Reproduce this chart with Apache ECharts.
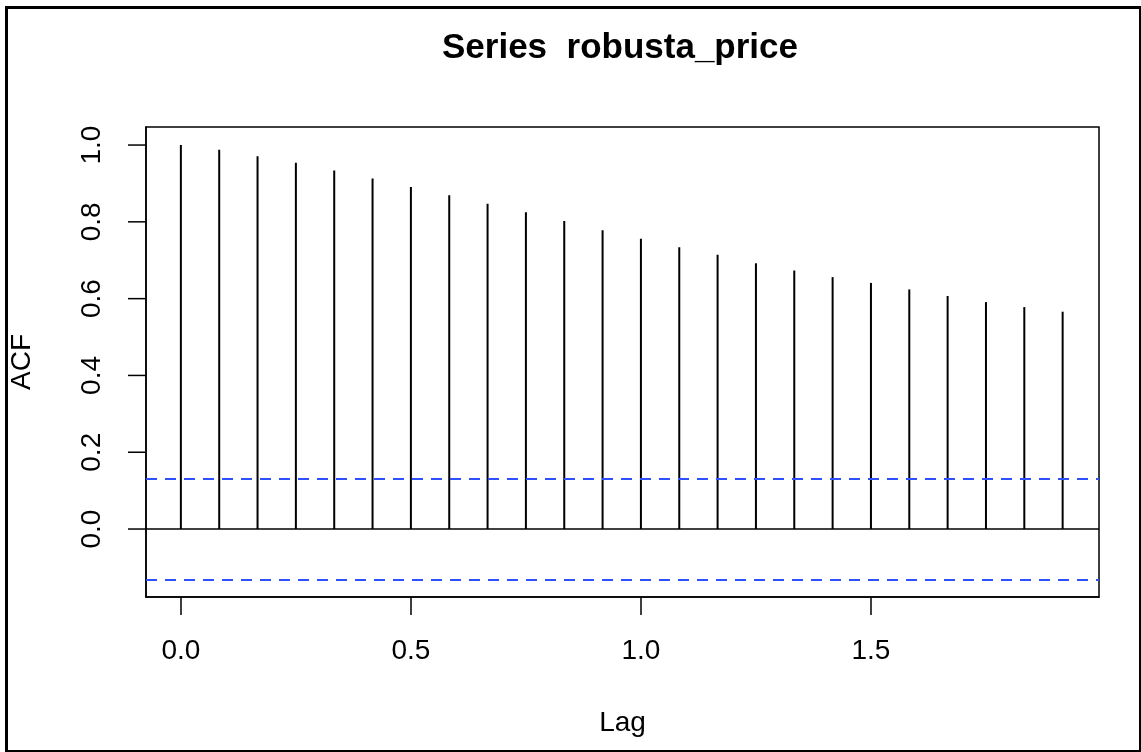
<!DOCTYPE html>
<html>
<head>
<meta charset="utf-8">
<script src="https://cdn.jsdelivr.net/npm/echarts@6/dist/echarts.min.js"></script>
<style>
  html, body { margin: 0; padding: 0; background: #fff; }
  #chart { width: 1141px; height: 752px; }
</style>
</head>
<body>
<div id="chart"></div>
<script>
// Autocorrelation of the monthly robusta price series, lags in years (1/12 steps)
const lags = [0, 1, 2, 3, 4, 5, 6, 7, 8, 9, 10, 11, 12, 13, 14, 15, 16, 17, 18, 19, 20, 21, 22, 23].map(k => k / 12);
const acfValues = [1.000, 0.988, 0.971, 0.954, 0.934, 0.913, 0.891, 0.869, 0.847, 0.825,
                   0.802, 0.778, 0.756, 0.734, 0.714, 0.692, 0.673, 0.656, 0.641, 0.624,
                   0.607, 0.591, 0.578, 0.566];
const confBound = 0.131;
const xTicks = [0, 0.5, 1.0, 1.5];
const yTicks = [0, 0.2, 0.4, 0.6, 0.8, 1.0];
const xRange = [-0.0758, 1.9957];
const yRange = [-0.177, 1.047];

const font = '"Liberation Sans", Arial, Helvetica, sans-serif';
const TICK_LEN = 18;
const chart = echarts.init(document.getElementById('chart'), null, { renderer: 'canvas' });

const frame = {
  type: 'rect', left: 4, top: 5, z: 100,
  shape: { width: 1134, height: 744 },
  style: { fill: 'none', stroke: '#000', lineWidth: 3 }
};

chart.setOption({
  animation: false,
  backgroundColor: '#fff',
  title: {
    text: 'Series  robusta_price',
    left: 615, top: 26, textAlign: 'center',
    textStyle: { fontFamily: font, fontWeight: 'bold', fontSize: 35, color: '#000' }
  },
  graphic: [frame],
  grid: {
    left: 144, right: 42, top: 127, bottom: 155,
    show: true, borderColor: '#000', borderWidth: 1.5, backgroundColor: 'transparent'
  },
  xAxis: {
    type: 'value', min: xRange[0], max: xRange[1],
    name: 'Lag', nameLocation: 'middle', nameGap: 112,
    nameTextStyle: { fontFamily: font, fontSize: 28, color: '#000' },
    axisLine: { show: true, onZero: false, lineStyle: { color: '#000', width: 1.5 } },
    splitLine: { show: false },
    axisTick: { show: true, length: TICK_LEN, customValues: xTicks, lineStyle: { color: '#000', width: 1.5 } },
    axisLabel: {
      customValues: xTicks, margin: 40, fontFamily: font, fontSize: 28, color: '#000',
      formatter: v => v.toFixed(1)
    }
  },
  yAxis: {
    type: 'value', min: yRange[0], max: yRange[1],
    name: 'ACF', nameLocation: 'middle', nameGap: 110, nameRotate: 90,
    nameTextStyle: { fontFamily: font, fontSize: 28, color: '#000' },
    axisLine: { show: true, onZero: false, lineStyle: { color: '#000', width: 1.5 } },
    splitLine: { show: false },
    axisTick: { show: false },
    axisLabel: {
      customValues: yTicks, rotate: 90, margin: 40, fontFamily: font, fontSize: 28, color: '#000',
      formatter: v => v.toFixed(1)
    }
  },
  series: [{
    // ACF spikes from zero up to each value
    type: 'custom',
    data: lags.map((x, i) => [x, acfValues[i]]),
    renderItem: (params, api) => {
      const p0 = api.coord([api.value(0), 0]);
      const p1 = api.coord([api.value(0), api.value(1)]);
      return {
        type: 'line',
        shape: { x1: p0[0], y1: p0[1], x2: p1[0], y2: p1[1] },
        style: { stroke: '#000', lineWidth: 2 }
      };
    },
    markLine: {
      silent: true, symbol: 'none', label: { show: false },
      data: [
        [{ coord: [xRange[0], 0], lineStyle: { color: '#000', type: 'solid', width: 1.5 } }, { coord: [xRange[1], 0] }],
        [{ coord: [xRange[0], confBound], lineStyle: { color: '#2f50ff', type: [11, 8], width: 2 } }, { coord: [xRange[1], confBound] }],
        [{ coord: [xRange[0], -confBound], lineStyle: { color: '#2f50ff', type: [11, 8], width: 2 } }, { coord: [xRange[1], -confBound] }]
      ]
    }
  }]
});

// Left-axis tick marks hanging outside the plot box, placed through the axis scale
const yTickMarks = yTicks.map(v => {
  const [px, py] = chart.convertToPixel({ gridIndex: 0 }, [xRange[0], v]);
  return {
    type: 'line', z: 50,
    shape: { x1: px - TICK_LEN, y1: py, x2: px, y2: py },
    style: { stroke: '#000', lineWidth: 1.5 }
  };
});
chart.setOption({ graphic: [frame].concat(yTickMarks) }, { replaceMerge: ['graphic'] });
</script>
</body>
</html>
